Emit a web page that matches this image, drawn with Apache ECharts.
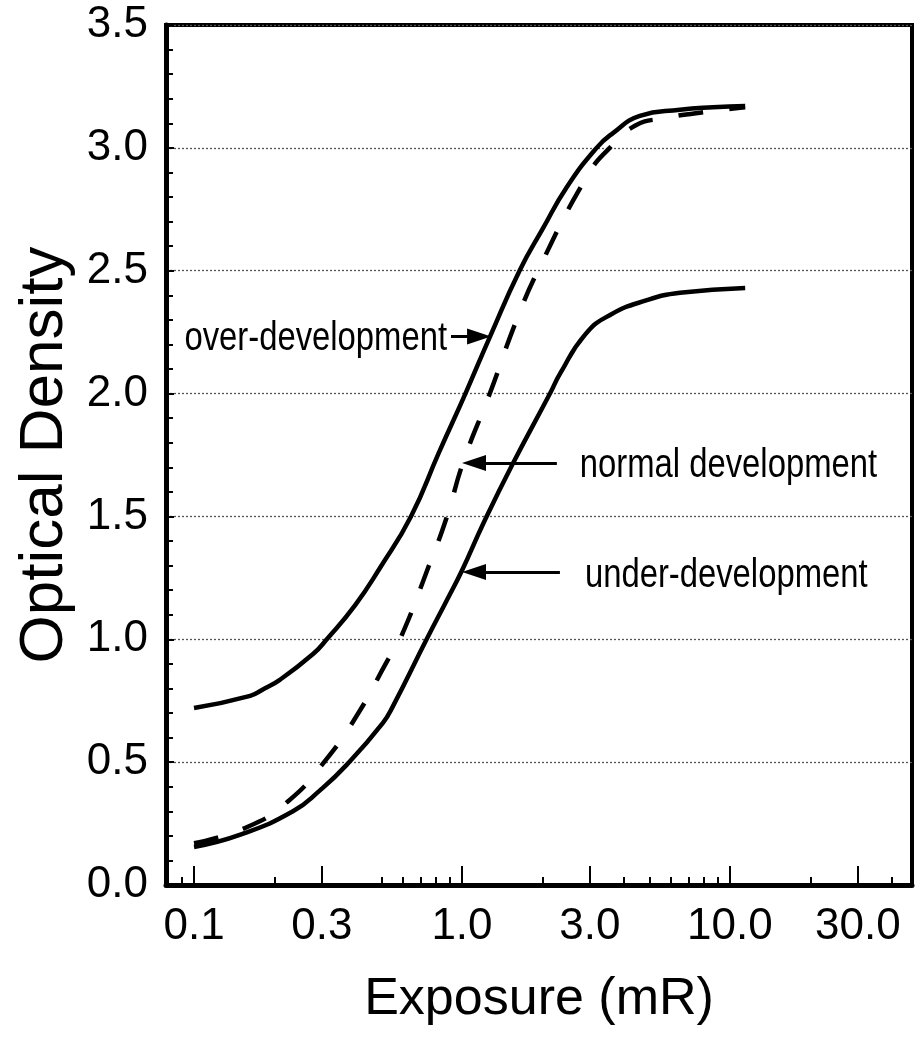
<!DOCTYPE html>
<html>
<head>
<meta charset="utf-8">
<script src="https://cdn.jsdelivr.net/npm/echarts@6/dist/echarts.min.js"></script>
<style>
  html, body { margin: 0; padding: 0; background: #fff; }
  #chart { width: 915px; height: 1039px; }
</style>
</head>
<body>
<div id="chart"></div>
<script>
// Characteristic (H&D) curves: optical density vs. exposure for three development conditions.

// Exposure in mR (log axis) and resulting optical density
const overExposure   = [0.1, 0.162, 0.18, 0.209, 0.278, 0.313, 0.40, 0.494, 0.645, 0.82, 1.03, 1.27, 1.64, 2.0, 2.46, 3.18, 3.66, 4.61, 6.51, 8.64, 11.4];
const overDensity    = [0.72, 0.77, 0.795, 0.835, 0.94, 1.0, 1.14, 1.29, 1.5, 1.76, 2.0, 2.23, 2.5, 2.67, 2.84, 3.0, 3.06, 3.13, 3.155, 3.165, 3.17];

const normalExposure = [0.1, 0.158, 0.224, 0.311, 0.416, 0.525, 0.587, 0.753, 0.879, 1.01, 1.27, 1.6, 1.94, 2.95, 3.56, 4.42, 5.62, 8.64, 11.4];
const normalDensity  = [0.17, 0.236, 0.34, 0.51, 0.71, 0.91, 1.0, 1.30, 1.5, 1.72, 2.0, 2.30, 2.51, 2.89, 3.0, 3.09, 3.12, 3.15, 3.165];

const underExposure  = [0.1, 0.149, 0.234, 0.295, 0.372, 0.507, 0.554, 0.738, 0.879, 1.0, 1.2, 1.54, 2.13, 2.32, 2.88, 3.57, 4.9, 6.51, 11.4];
const underDensity   = [0.155, 0.205, 0.30, 0.385, 0.49, 0.66, 0.73, 1.0, 1.16, 1.28, 1.47, 1.71, 2.0, 2.08, 2.24, 2.32, 2.38, 2.41, 2.43];

// Axis ticks
const exposureMajorTicks = [0.1, 0.3, 1, 3, 10, 30];
const exposureMinorTicks = [0.09, 0.2, 0.5, 0.6, 0.7, 0.8, 0.9, 2, 4, 5, 6, 7, 8, 9, 20, 40];
const exposureRange = [0.0786, 47.8];
const densityRange = [0, 3.5];
const densityStep = 0.5;

// Callout annotations: label, arrow start [exposure, density], arrow end [exposure, density]
const calloutOver   = { text: 'over-development',   from: [0.91, 2.232], to: [1.158, 2.232] };
const calloutNormal = { text: 'normal development', from: [2.26, 1.717], to: [1.109, 1.717] };
const calloutUnder  = { text: 'under-development',  from: [2.32, 1.274], to: [1.109, 1.274] };

const lg = Math.log10;
const toPoints = (xs, ys) => xs.map((e, i) => [lg(e), ys[i]]);

const SANS = "'Liberation Sans', Arial, Helvetica, sans-serif";

function arrow(c) {
  return {
    silent: true,
    animation: false,
    symbol: ['none', 'triangle'],
    symbolSize: [16, 24],
    lineStyle: { color: '#000', width: 3, type: 'solid' },
    label: { show: false },
    data: [[
      { coord: [lg(c.from[0]), c.from[1]] },
      { coord: [lg(c.to[0]), c.to[1]] }
    ]]
  };
}

const chart = echarts.init(document.getElementById('chart'), null, { renderer: 'canvas' });

const lineBase = {
  type: 'line',
  xAxisIndex: 0,
  yAxisIndex: 0,
  symbol: 'none',
  showSymbol: false,
  smooth: 0.5,
  animation: false,
  silent: true
};

chart.setOption({
  backgroundColor: '#fff',
  animation: false,
  grid: {
    left: 166, top: 25, width: 746, height: 860,
    show: true, borderColor: '#000', borderWidth: 4, backgroundColor: 'transparent'
  },
  xAxis: [
    {
      type: 'value',
      min: lg(exposureRange[0]),
      max: lg(exposureRange[1]),
      position: 'bottom',
      name: 'Exposure (mR)',
      nameLocation: 'middle',
      nameGap: 89,
      nameTextStyle: { fontFamily: SANS, fontSize: 52, color: '#000' },
      axisLine: { show: true, onZero: false, lineStyle: { color: '#000', width: 5 } },
      axisTick: {
        show: true, inside: true, length: 19,
        customValues: exposureMajorTicks.map(lg),
        lineStyle: { color: '#000', width: 2 }
      },
      axisLabel: {
        show: true, margin: 20,
        customValues: exposureMajorTicks.map(lg),
        formatter: v => Math.pow(10, v).toFixed(1),
        fontFamily: SANS, fontSize: 44, color: '#000'
      },
      splitLine: { show: false }
    },
    {
      type: 'value',
      min: lg(exposureRange[0]),
      max: lg(exposureRange[1]),
      position: 'bottom',
      axisLine: { show: false, onZero: false },
      axisTick: {
        show: true, inside: true, length: 8,
        customValues: exposureMinorTicks.map(lg),
        lineStyle: { color: '#000', width: 2 }
      },
      axisLabel: { show: false },
      splitLine: { show: false }
    }
  ],
  yAxis: {
    type: 'value',
    min: densityRange[0],
    max: densityRange[1],
    interval: densityStep,
    name: 'Optical Density',
    nameLocation: 'middle',
    nameGap: 86,
    nameRotate: 90,
    nameTextStyle: { fontFamily: SANS, fontSize: 62, color: '#000' },
    axisLine: { show: true, onZero: false, lineStyle: { color: '#000', width: 5 } },
    axisTick: { show: true, inside: true, length: 8, lineStyle: { color: '#000', width: 2 } },
    minorTick: { show: true, splitNumber: 5, length: 7, lineStyle: { color: '#000', width: 2 } },
    axisLabel: {
      margin: 18,
      formatter: v => v.toFixed(1),
      fontFamily: SANS, fontSize: 44, color: '#000'
    },
    splitLine: { show: true, lineStyle: { color: '#555', width: 1.3, type: [2, 2] } }
  },
  series: [
    Object.assign({}, lineBase, {
      name: 'over-development',
      data: toPoints(overExposure, overDensity),
      lineStyle: { color: '#000', width: 4.5 },
      markLine: arrow(calloutOver)
    }),
    Object.assign({}, lineBase, {
      name: 'normal development',
      data: toPoints(normalExposure, normalDensity),
      lineStyle: { color: '#000', width: 4.5, type: [25, 26] },
      markLine: arrow(calloutNormal)
    }),
    Object.assign({}, lineBase, {
      name: 'under-development',
      data: toPoints(underExposure, underDensity),
      lineStyle: { color: '#000', width: 4.5 },
      markLine: arrow(calloutUnder)
    })
  ]
});

// Callout texts in a condensed face, anchored at each arrow's tail in data space
function calloutText(c, align, gap, dy) {
  const p = chart.convertToPixel({ gridIndex: 0 }, [lg(c.from[0]), c.from[1]]);
  return {
    type: 'text',
    x: p[0] + (align === 'right' ? -gap : gap),
    y: p[1] + dy,
    scaleX: 0.82,
    silent: true,
    style: {
      text: c.text,
      x: 0, y: 0,
      align: align, textAlign: align,
      verticalAlign: 'middle', textVerticalAlign: 'middle',
      fontFamily: SANS, fontSize: 40, fill: '#000'
    }
  };
}

chart.setOption({
  graphic: [
    calloutText(calloutOver, 'right', 4, 2),
    calloutText(calloutNormal, 'left', 23, 3),
    calloutText(calloutUnder, 'left', 25, 4)
  ]
});
</script>
</body>
</html>
